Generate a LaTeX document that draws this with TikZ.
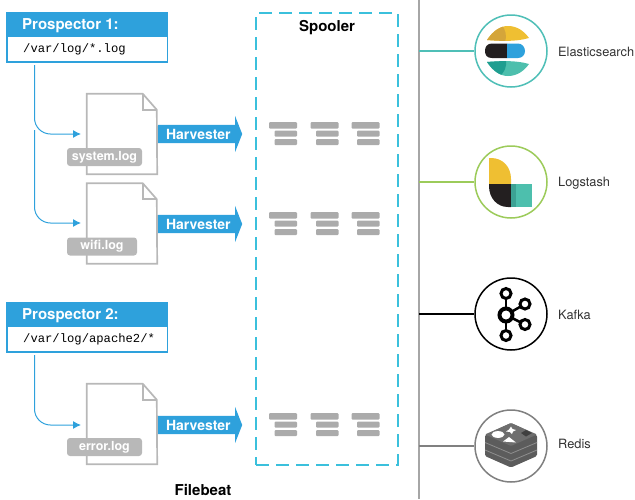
\documentclass[tikz,border=0pt]{standalone}
\usepackage{fontspec}
\setmainfont{TeX Gyre Heros}
\setmonofont{Liberation Mono}
\usetikzlibrary{arrows.meta, shapes.arrows}
\definecolor{beatblue}{HTML}{2EA1DC}
\definecolor{dashblue}{HTML}{3BC0DC}
\definecolor{docgray}{HTML}{B8B8B8}
\definecolor{bargray}{HTML}{ABABAB}
\definecolor{railgray}{HTML}{A6A6A6}
\definecolor{elastic}{HTML}{4FBFB7}
\definecolor{logstash}{HTML}{9CCB5A}
\definecolor{redisgray}{HTML}{808080}
\definecolor{logoyellow}{HTML}{EFBF32}
\definecolor{logogold}{HTML}{D4A53A}
\definecolor{logodark}{HTML}{231F20}
\definecolor{logoteal}{HTML}{4DBFAD}
\definecolor{logodeep}{HTML}{1F9E90}
\definecolor{logomid}{HTML}{3CA294}
\definecolor{redistop}{HTML}{6E6E6E}
\definecolor{redisside}{HTML}{5C5C5C}
\definecolor{redisedge}{HTML}{8E8E8E}
\tikzset{
prospbox/.style={fill=beatblue, minimum width=162pt, minimum height=51pt, inner sep=0pt},
pathbox/.style={fill=white, minimum width=159pt, minimum height=24pt, inner sep=0pt},
prosptitle/.style={anchor=west, text=white, inner sep=0pt, font=\fontsize{15}{17}\selectfont\bfseries},
pathtext/.style={anchor=west, inner sep=0pt, font=\fontsize{12.2}{14}\ttfamily},
docbox/.style={minimum width=70pt, minimum height=80pt, inner sep=0pt},
docline/.style={draw=docgray, line width=1.7pt},
loglabel/.style={fill=docgray, text=white, rounded corners=3pt, minimum height=18pt, inner sep=0pt, font=\fontsize{12.5}{14}\selectfont\bfseries},
harvest/.style={single arrow, fill=beatblue, text=white, anchor=west, inner sep=0pt, text height=14pt, text depth=4pt, minimum height=84pt, minimum width=36pt, single arrow head extend=9pt, single arrow tip angle=137, font=\fontsize{14}{16}\selectfont\bfseries},
feed/.style={draw=beatblue, line width=1pt, rounded corners=16pt, -{Latex[length=8pt,width=8pt]}},
bar/.style={fill=bargray, rounded corners=1pt},
outring/.style={circle, draw=#1, fill=white, line width=1.5pt, minimum size=72pt, inner sep=0pt},
outline/.style={draw=#1, line width=1.5pt},
outlabel/.style={anchor=west, inner sep=0pt, text=black!80, font=\fontsize{12.8}{15}\selectfont},
boldlabel/.style={inner sep=0pt, font=\fontsize{15}{17}\selectfont\bfseries}
}
\begin{document}
\begin{tikzpicture}[x=1pt, y=-1pt]
\useasboundingbox (0,0) rectangle (635,499);
\node[prospbox] (prospA) at (87,37.5) {};
\node[pathbox] (pathA) at (87.5,49) {};
\node[prosptitle] (titleA) at (22,26) {Prospector 1:};
\node[pathtext] (textA) at (23,49.5) {/var/log/*.log};
\node[prospbox] (prospB) at (87,327.5) {};
\node[pathbox] (pathB) at (87.5,339) {};
\node[prosptitle] (titleB) at (22,315.5) {Prospector 2:};
\node[pathtext] (textB) at (23,339.5) {/var/log/apache2/*};
\foreach \n/\y/\name/\w/\h in {docA/134/system.log/75/134, docB/223.5/wifi.log/70/224, docC/424/error.log/75/425} {
\node[docbox] (\n) at (122,\y) {};
\draw[docline] (\n.north west) -- ++(56,0) -- ++(14,16) -- (\n.south east) -- (\n.south west) -- cycle;
\draw[docline] (\n.north west) ++(56,0) -- ++(0,16) -- ++(14,0);
\node[loglabel, minimum width=\w pt] (\n label) at (67+\w/2,\y+23) {\name};
\node[harvest] (\n arrow) at (158,\h) {Harvester};
}
\coordinate (tapA) at (34.5,65);
\coordinate (tapB) at (34.5,130);
\coordinate (tapC) at (34.5,355);
\coordinate (inA) at (81,134);
\coordinate (inB) at (81,223);
\coordinate (inC) at (81,425);
\draw[feed] (tapA) |- (inA);
\draw[feed] (tapB) |- (inB);
\draw[feed] (tapC) |- (inC);
\node[minimum width=142pt, minimum height=452pt, draw=dashblue, line width=1.5pt, dash pattern=on 13pt off 7pt, inner sep=0pt] (spooler) at (327,239) {};
\node[boldlabel] (spoolertitle) at (327,27.5) {Spooler};
\foreach \y in {122,212,413} {
\foreach \x in {269,310.5,351.5} {
\fill[bar] (\x,\y) rectangle ++(28,6.5);
\fill[bar] (\x+5.5,\y+8.5) rectangle ++(22.5,6);
\fill[bar] (\x+5.5,\y+17) rectangle ++(22.5,6);
}
}
\node[boldlabel] (filebeat) at (203,489.5) {Filebeat};
\coordinate (railtop) at (419,0);
\coordinate (railend) at (419,499);
\draw[draw=railgray, line width=1.5pt] (railtop) -- (railend);
\foreach \n/\y/\c/\name/\ly in {elasticnode/51/elastic/Elasticsearch/52, logstashnode/182/logstash/Logstash/183, kafkanode/314/black/Kafka/314.5, redisnode/446/redisgray/Redis/444} {
\coordinate (\n rail) at (419,\y);
\node[outring=\c] (\n) at (511,\y) {};
\draw[outline=\c] (\n rail) -- (\n);
\node[outlabel] (\n label) at (558,\ly) {\name};
}
\begin{scope}
\clip (487,40) .. controls (493,31) and (500,26) .. (508,26) .. controls (517,26) and (524,31) .. (529,38) .. controls (515,42) and (500,41) .. (487,40) -- cycle;
\fill[logoyellow] (485,24) rectangle (531,42);
\fill[logogold] (485,24) -- (501,24) .. controls (506,30) and (507,36) .. (505,42) -- (485,42) -- cycle;
\end{scope}
\begin{scope}
\clip (487,62) .. controls (500,61) and (515,60) .. (529,64) .. controls (524,71) and (517,76) .. (508,76) .. controls (500,76) and (493,71) .. (487,62) -- cycle;
\fill[logoteal] (485,60) rectangle (531,78);
\fill[logodeep] (485,60) -- (506,60) .. controls (507,66) and (505,72) .. (498,78) -- (485,78) -- cycle;
\end{scope}
\fill[logodark] (507,43.5) -- (492,43.5) .. controls (487,43.5) and (485,47) .. (485,51) .. controls (485,55) and (487,58) .. (492,58) -- (507,58) -- cycle;
\fill[beatblue] (507,43.5) -- (518,43.5) .. controls (522,43.5) and (525,47) .. (525,51) .. controls (525,55) and (522,58) .. (518,58) -- (507,58) -- cycle;
\fill[logoyellow] (489,158) -- (491,158) .. controls (503,158) and (511,167) .. (511,179) -- (511,184) -- (489,184) -- cycle;
\fill[logodark] (489,184) -- (511,184) -- (511,207) -- (508,207) .. controls (497,207) and (489,198) .. (489,186) -- cycle;
\fill[logoteal] (511,184) rectangle (532,207);
\fill[logomid] (511,184) rectangle (516,207);
\foreach \x/\y in {506/293.5, 506/335.5, 525/304, 525/324.5} {
\draw[line width=2.5pt] (506,315) -- (\x,\y);
\draw[line width=3pt, fill=white] (\x,\y) circle (5);
}
\draw[line width=4pt, fill=white] (506,315) circle (6.5);
\fill[redisside, rounded corners=1.5pt] (485,435) -- (511,423) -- (537,435) -- (537,456) -- (511,467.5) -- (485,456) -- cycle;
\foreach \y in {442.5,450} {
\draw[redisedge, line width=0.8pt] (485,\y) -- (511,\y+11) -- (537,\y);
}
\fill[redistop, rounded corners=1pt] (485,434.5) -- (511,423) -- (537,434.5) -- (511,446) -- cycle;
\fill[white] (498,434.5) ellipse (6.5 and 3.4);
\fill[white] (511,426.5) -- (512.5,429) -- (516,430) -- (513,431.5) -- (512,434) -- (510,432) -- (506,431.5) -- (509,429.5) -- cycle;
\fill[white] (509,437) -- (516,442.5) -- (503,441.5) -- cycle;
\fill[black!75] (521,433) -- (526,430) -- (532,433) -- (526,436.5) -- cycle;
\end{tikzpicture}
\end{document}
